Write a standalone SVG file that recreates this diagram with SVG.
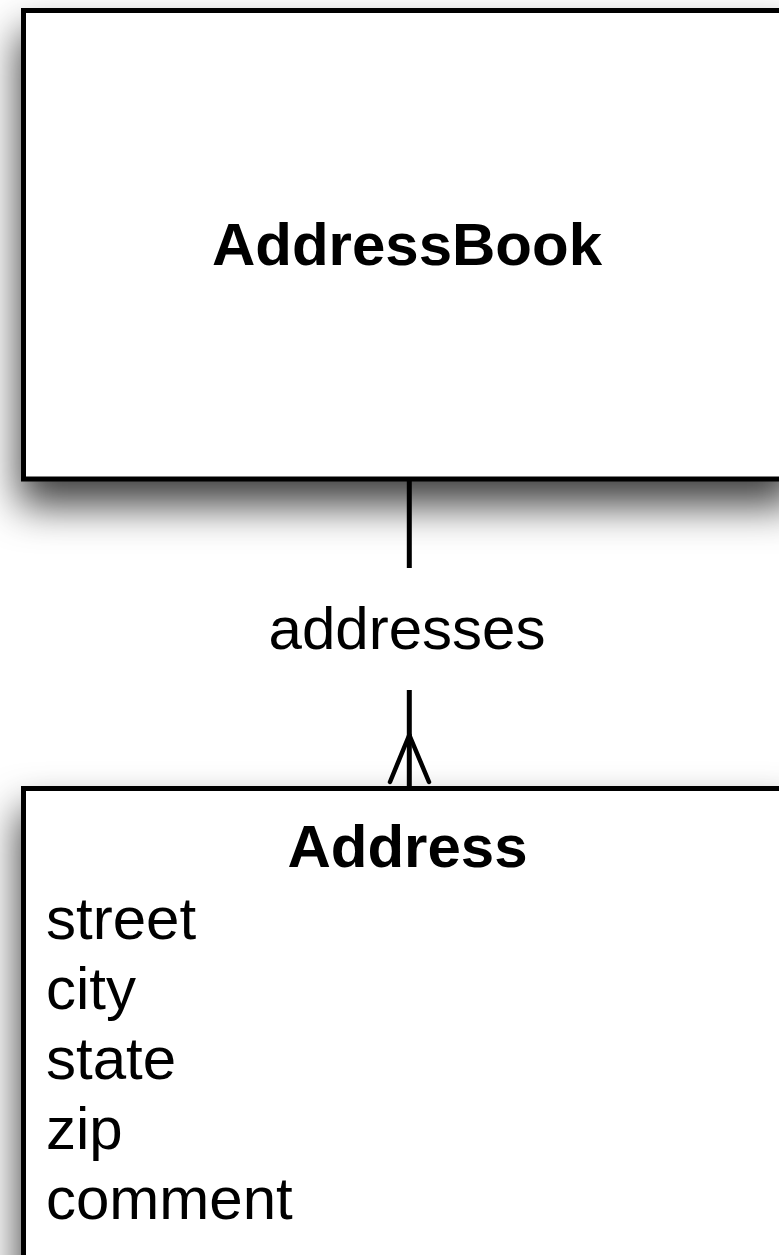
<svg xmlns="http://www.w3.org/2000/svg" width="779" height="1255" viewBox="0 0 779 1255">
  <style>
    .entity { fill: #ffffff; stroke: #000000; stroke-width: 5; }
    .title { font-family: "Liberation Sans", Arial, Helvetica, sans-serif; font-weight: bold; font-size: 60px; fill: #000000; text-anchor: middle; }
    .label { font-family: "Liberation Sans", Arial, Helvetica, sans-serif; font-size: 60px; fill: #000000; }
    .conn { stroke: #000000; stroke-width: 5; fill: none; }
    .foot { stroke: #000000; stroke-width: 4.5; fill: none; stroke-linecap: round; }
  </style>
  <defs>
    <filter id="dropShadow" filterUnits="userSpaceOnUse" x="-200" y="-200" width="1300" height="1800">
      <feGaussianBlur in="SourceAlpha" stdDeviation="20"/>
      <feOffset dx="-2" dy="24" result="blur"/>
      <feFlood flood-color="#000000" flood-opacity="0.75"/>
      <feComposite in2="blur" operator="in" result="shadow"/>
      <feMerge>
        <feMergeNode in="shadow"/>
        <feMergeNode in="SourceGraphic"/>
      </feMerge>
    </filter>
  </defs>
  <rect width="779" height="1255" fill="#ffffff"/>

  <!-- AddressBook entity -->
  <g id="addressbook">
    <rect class="entity" x="23.5" y="10.5" width="772" height="468.5" filter="url(#dropShadow)"/>
    <text class="title" x="407" y="265">AddressBook</text>
  </g>

  <!-- Address entity -->
  <g id="address">
    <rect class="entity" x="23.5" y="788.5" width="772" height="520" filter="url(#dropShadow)"/>
    <text class="title" x="407.5" y="867">Address</text>
    <text class="label" x="46" y="939">street</text>
    <text class="label" x="46" y="1009">city</text>
    <text class="label" x="46" y="1079">state</text>
    <text class="label" x="46" y="1149">zip</text>
    <text class="label" x="46" y="1219">comment</text>
  </g>

  <!-- relationship: AddressBook 1 to many Address -->
  <g id="connectors">
    <line class="conn" x1="409.3" y1="481" x2="409.3" y2="568"/>
    <line class="conn" x1="409.3" y1="690" x2="409.3" y2="787"/>
    <line class="foot" x1="409.3" y1="735" x2="390" y2="782"/>
    <line class="foot" x1="409.3" y1="735" x2="429" y2="782"/>
    <text class="label" x="407" y="649" text-anchor="middle">addresses</text>
  </g>
</svg>
